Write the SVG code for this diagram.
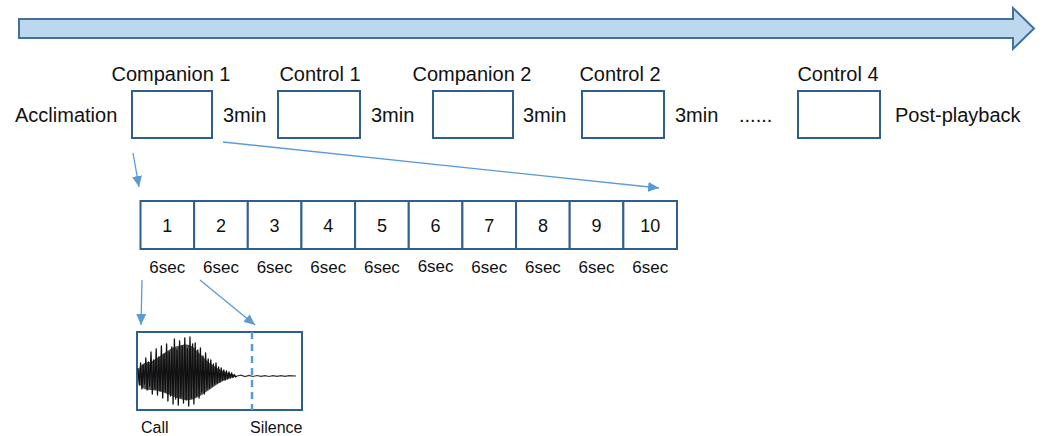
<svg xmlns="http://www.w3.org/2000/svg" width="1042" height="436" viewBox="0 0 1042 436">
<style>
text{font-family:"Liberation Sans",Arial,sans-serif;fill:#111}
.lbl{font-size:20px}
.num{font-size:17px;text-anchor:middle}
.dig{font-size:18px;text-anchor:middle}
.small{font-size:16px}
.box{fill:#fff;stroke:#2f5f8e;stroke-width:2}
.conn{stroke:#5b9bd5;stroke-width:1.3;fill:none;marker-end:url(#ah)}
</style>
<defs>
<marker id="ah" markerUnits="userSpaceOnUse" markerWidth="12" markerHeight="10" refX="11" refY="5" orient="auto">
<path d="M0,0 L11,5 L0,10 Z" fill="#5b9bd5"/>
</marker>
</defs>
<rect width="1042" height="436" fill="#fff"/>
<g id="timeline">
<polygon points="19,19 1013,19 1013,8 1034,28.5 1013,49 1013,38 19,38" fill="#bdd7ee" stroke="#41719c" stroke-width="2" stroke-linejoin="miter"/>
</g>
<g id="acclimation"><text class="lbl" x="15" y="122">Acclimation</text></g>
<g id="companion1"><text class="lbl" x="171" y="81" text-anchor="middle">Companion 1</text><rect class="box" x="132" y="91" width="80" height="47"/></g>
<g id="gap1"><text class="lbl" x="223" y="122">3min</text></g>
<g id="control1"><text class="lbl" x="320" y="81" text-anchor="middle">Control 1</text><rect class="box" x="278" y="91" width="82" height="47"/></g>
<g id="gap2"><text class="lbl" x="371" y="122">3min</text></g>
<g id="companion2"><text class="lbl" x="472" y="81" text-anchor="middle">Companion 2</text><rect class="box" x="433" y="91" width="80" height="47"/></g>
<g id="gap3"><text class="lbl" x="523" y="122">3min</text></g>
<g id="control2"><text class="lbl" x="620" y="81" text-anchor="middle">Control 2</text><rect class="box" x="582" y="91" width="82" height="47"/></g>
<g id="gap4"><text class="lbl" x="675" y="122">3min</text></g>
<g id="ellipsis"><text class="lbl" x="739" y="122">......</text></g>
<g id="control4"><text class="lbl" x="838" y="81" text-anchor="middle">Control 4</text><rect class="box" x="798" y="91" width="82" height="47"/></g>
<g id="postplayback"><text class="lbl" x="895" y="122">Post-playback</text></g>

<g id="segments">
<rect class="box" x="140.5" y="201" width="53.65" height="48"/>
<rect class="box" x="194.15" y="201" width="53.65" height="48"/>
<rect class="box" x="247.8" y="201" width="53.65" height="48"/>
<rect class="box" x="301.45" y="201" width="53.65" height="48"/>
<rect class="box" x="355.1" y="201" width="53.65" height="48"/>
<rect class="box" x="408.75" y="201" width="53.65" height="48"/>
<rect class="box" x="462.4" y="201" width="53.65" height="48"/>
<rect class="box" x="516.05" y="201" width="53.65" height="48"/>
<rect class="box" x="569.7" y="201" width="53.65" height="48"/>
<rect class="box" x="623.35" y="201" width="53.65" height="48"/>
<text class="dig" x="167.3" y="232">1</text>
<text class="dig" x="221" y="232">2</text>
<text class="dig" x="274.6" y="232">3</text>
<text class="dig" x="328.3" y="232">4</text>
<text class="dig" x="381.9" y="232">5</text>
<text class="dig" x="435.6" y="232">6</text>
<text class="dig" x="489.2" y="232">7</text>
<text class="dig" x="542.9" y="232">8</text>
<text class="dig" x="596.5" y="232">9</text>
<text class="dig" x="650.2" y="232">10</text>
<text class="num" x="167.3" y="273">6sec</text>
<text class="num" x="221" y="273">6sec</text>
<text class="num" x="274.6" y="273">6sec</text>
<text class="num" x="328.3" y="273">6sec</text>
<text class="num" x="381.9" y="273">6sec</text>
<text class="num" x="435.6" y="272">6sec</text>
<text class="num" x="489.2" y="273">6sec</text>
<text class="num" x="542.9" y="273">6sec</text>
<text class="num" x="596.5" y="273">6sec</text>
<text class="num" x="650.2" y="273">6sec</text>
</g>

<g id="waveform">
<rect class="box" x="137" y="332" width="165" height="78"/>
<path fill="#555" stroke="none" d="M138,376 C138,366 143,362 150,362 C160,358 168,348 178,346 C186,343 192,344 198,352 C206,360 214,368 228,373 L237,376 L228,379 C214,384 206,394 196,398 C188,402 182,400 172,396 C164,392 156,390 150,390 C143,390 138,386 138,376 Z"/>
<polyline fill="none" stroke="#111" stroke-width="1.3" stroke-linejoin="round" points="138,368 139.3,385 140.6,363 141.9,389 143.2,365 144.5,384 145.8,358 147.1,390 148.4,362 149.7,386 151,352 152.3,394 153.6,360 154.9,389 156.2,349 157.5,395 158.8,357 160.1,391 161.4,346 162.7,398 164,354 165.3,392 166.6,344 167.9,401 169.2,352 170.5,396 171.8,347 173.1,404 174.4,339 175.7,399 177,350 178.3,405 179.6,341 180.9,397 182.2,346 183.5,403 184.8,338 186.1,400 187.4,349 188.7,406 190,337 191.3,398 192.6,344 193.9,404 195.2,343 196.5,396 197.8,350 199.1,398 200.4,348 201.7,392 203,356 204.3,394 205.6,353 206.9,389 208.2,359 209.5,388 210.8,360 212.1,386 213.4,364 214.7,384 216,363 217.3,383 218.6,367 219.9,382 221.2,368 222.5,380 223.8,370 225.1,380 226.4,371 227.7,379 229,372 230.3,378 231.6,373 232.9,377.5 234.2,374.5 235.5,377 237,376"/>
<polyline fill="none" stroke="#333" stroke-width="1.2" points="237,376 241,375.2 245,376.6 249,375.4 253,376.5 257,375.5 261,376.4 265,375.6 269,376.5 273,375.6 277,376.4 281,375.6 285,376.4 289,375.7 296,376"/>
<line x1="252" y1="332" x2="252" y2="410" stroke="#5b9bd5" stroke-width="2.5" stroke-dasharray="7 5"/>
<text class="small" x="141" y="433">Call</text>
<text class="small" x="250" y="433">Silence</text>
</g>

<g id="connectors">
<line class="conn" x1="133" y1="153" x2="139" y2="187"/>
<line class="conn" x1="223" y1="142" x2="659" y2="188"/>
<line class="conn" x1="142" y1="280" x2="141" y2="325"/>
<line class="conn" x1="200" y1="280" x2="255" y2="325"/>
</g>
</svg>
